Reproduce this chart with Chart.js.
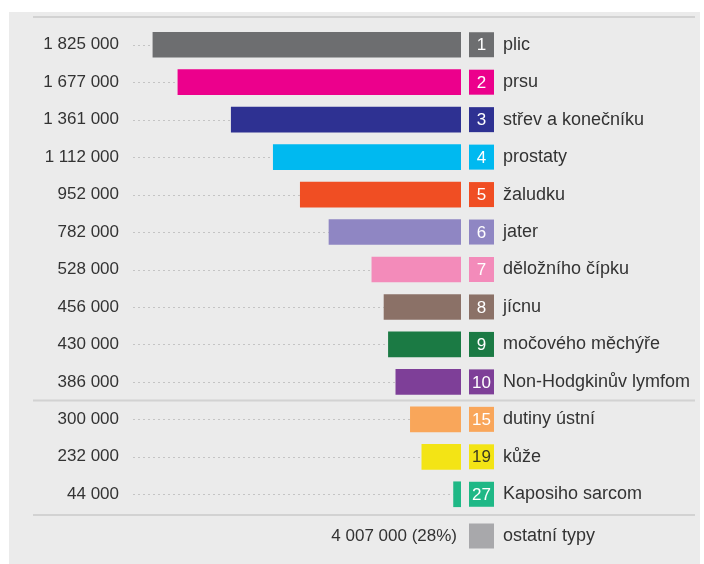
<!DOCTYPE html>
<html>
<head>
<meta charset="utf-8">
<script src="https://cdn.jsdelivr.net/npm/chart.js@4.4.1/dist/chart.umd.min.js"></script>
<style>
  html, body { margin: 0; padding: 0; background: #ffffff; }
  #wrap { width: 704px; height: 564px; }
</style>
</head>
<body>
<div id="wrap"><canvas id="chart" width="704" height="564"></canvas></div>
<script>
// Cancer cases by type
const values = [1825000, 1677000, 1361000, 1112000, 952000, 782000, 528000, 456000, 430000, 386000, 300000, 232000, 44000];
const ranks = ['1', '2', '3', '4', '5', '6', '7', '8', '9', '10', '15', '19', '27'];
const names = ['plic', 'prsu', 'střev a konečníku', 'prostaty', 'žaludku', 'jater', 'děložního čípku',
  'jícnu', 'močového měchýře', 'Non-Hodgkinův lymfom', 'dutiny ústní', 'kůže', 'Kaposiho sarcom'];
const colors = ['#6d6e70', '#ec008c', '#2e3192', '#00b9f0', '#f04e23', '#8f86c3', '#f38bba',
  '#8b7167', '#1b7a44', '#7e3f98', '#f9a65a', '#f3e415', '#1fb886'];
const otherValue = 4007000;
const otherShare = '28%';
const otherName = 'ostatní typy';

const FONT = "'Liberation Sans', Arial, sans-serif";
const TEXT = '#333333';

// formats 1825000 as "1 825 000"
function fmt(v) {
  return String(v).replace(/\B(?=(\d{3})+(?!\d))/g, ' ');
}

const decorations = {
  id: 'decorations',
  beforeDraw(chart) {
    const ctx = chart.ctx;
    ctx.save();
    ctx.fillStyle = '#ffffff';
    ctx.fillRect(0, 0, chart.width, chart.height);
    ctx.fillStyle = '#ebebeb';
    ctx.fillRect(9, 12, 691, chart.height - 12);
    ctx.restore();
  },
  beforeDatasetsDraw(chart) {
    const ctx = chart.ctx;
    const xs = chart.scales.x, ys = chart.scales.y;
    const area = chart.chartArea;
    ctx.save();
    // dotted leaders
    ctx.strokeStyle = '#c4c4c4';
    ctx.lineWidth = 1.2;
    ctx.setLineDash([2, 3]);
    values.forEach((v, i) => {
      const y = Math.round(ys.getPixelForValue(i)) + 0.5;
      ctx.beginPath();
      ctx.moveTo(area.left, y);
      ctx.lineTo(xs.getPixelForValue(v), y);
      ctx.stroke();
    });
    ctx.setLineDash([]);
    // separator rules
    ctx.strokeStyle = '#d2d2d2';
    ctx.lineWidth = 2;
    const sepTop = area.top - 9;
    const sepMid = (ys.getPixelForValue(9) + ys.getPixelForValue(10)) / 2;
    const sepBot = area.bottom + 2;
    [sepTop, sepMid, sepBot].forEach(y => {
      ctx.beginPath();
      ctx.moveTo(33, y);
      ctx.lineTo(695, y);
      ctx.stroke();
    });
    ctx.restore();
  },
  afterDatasetsDraw(chart) {
    const ctx = chart.ctx;
    const ys = chart.scales.y;
    const area = chart.chartArea;
    const boxX = area.right + 8, box = 25;
    ctx.save();
    ctx.textBaseline = 'middle';
    values.forEach((v, i) => {
      const y = ys.getPixelForValue(i);
      ctx.fillStyle = colors[i];
      ctx.fillRect(boxX, y - box / 2, box, box);
      ctx.fillStyle = i === 11 ? '#3a3a20' : '#ffffff';
      ctx.font = '17px ' + FONT;
      ctx.textAlign = 'center';
      ctx.fillText(ranks[i], boxX + box / 2, y + 1);
      ctx.fillStyle = TEXT;
      ctx.font = '18px ' + FONT;
      ctx.textAlign = 'left';
      ctx.fillText(names[i], boxX + 34, y);
    });
    // remaining types row
    const yo = area.bottom + 23;
    ctx.fillStyle = '#a8a8ab';
    ctx.fillRect(boxX, yo - box / 2, box, box);
    ctx.fillStyle = TEXT;
    ctx.font = '17px ' + FONT;
    ctx.textAlign = 'right';
    ctx.fillText(fmt(otherValue) + ' (' + otherShare + ')', area.right - 4, yo);
    ctx.font = '18px ' + FONT;
    ctx.textAlign = 'left';
    ctx.fillText(otherName, boxX + 34, yo);
    ctx.restore();
  }
};

new Chart(document.getElementById('chart'), {
  type: 'bar',
  data: {
    labels: values.map(fmt),
    datasets: [{
      data: values,
      backgroundColor: colors,
      barThickness: 25
    }]
  },
  options: {
    indexAxis: 'y',
    responsive: false,
    animation: false,
    layout: { padding: { left: 0, right: 243, top: 26, bottom: 51 } },
    plugins: { legend: { display: false }, tooltip: { enabled: false } },
    scales: {
      x: { type: 'linear', reverse: true, min: 0, max: 1943000, display: false },
      y: {
        grid: { display: false, drawTicks: false },
        border: { display: false },
        ticks: { color: TEXT, padding: 14, font: { family: FONT, size: 17 } },
        afterFit(scale) { scale.width = 133; }
      }
    }
  },
  plugins: [decorations]
});
</script>
</body>
</html>
